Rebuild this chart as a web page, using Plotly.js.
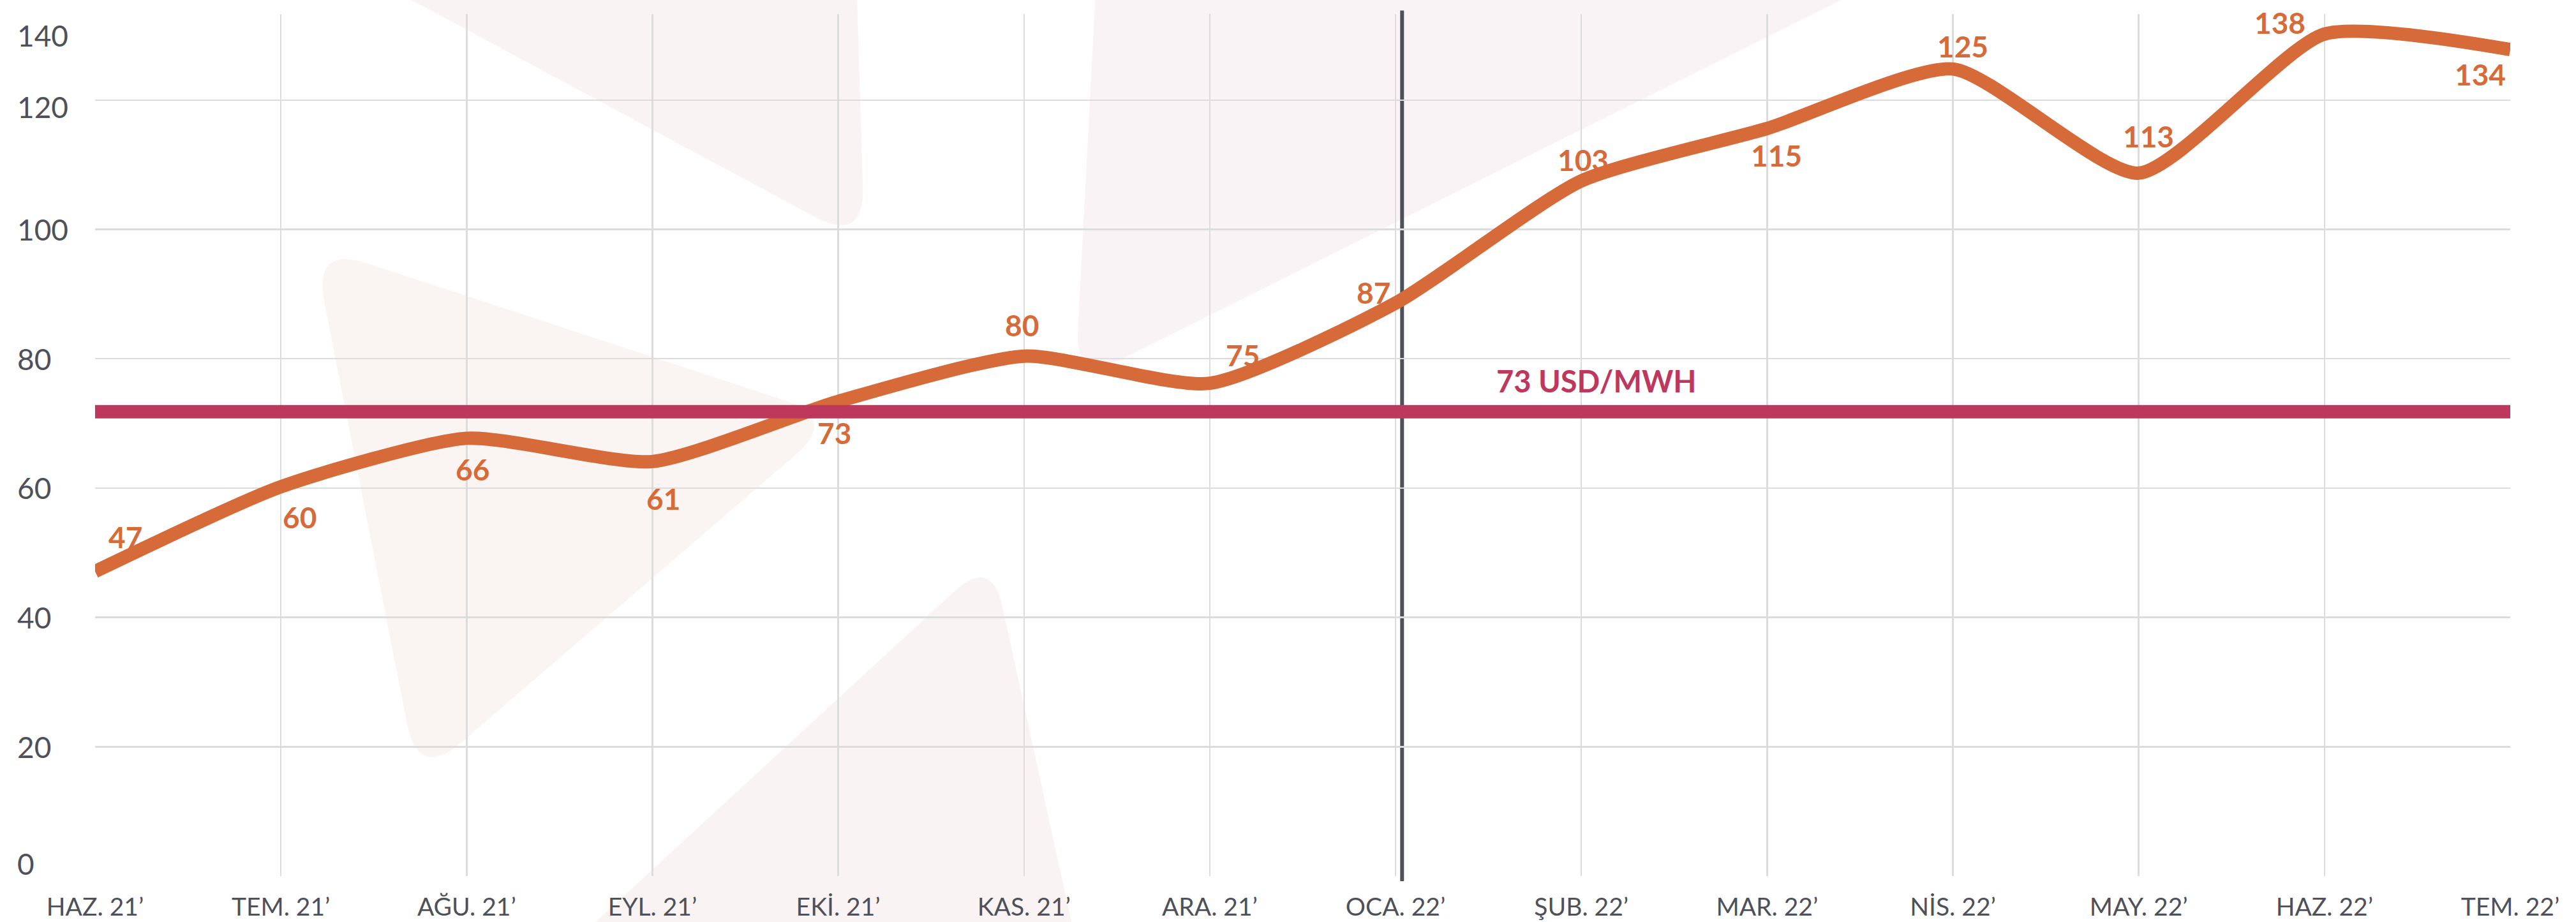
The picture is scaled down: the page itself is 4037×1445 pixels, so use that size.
<!DOCTYPE html>
<html>
<head>
<meta charset="utf-8">
<script src="https://cdn.plot.ly/plotly-3.0.1.min.js"></script>
<style>
  html, body { margin: 0; padding: 0; background: #ffffff; }
  #chart { width: 4037px; height: 1445px; }
</style>
</head>
<body>
<div id="chart"></div>
<script>
// ---------------- DATA ----------------
const months = ['HAZ. 21’','TEM. 21’','AĞU. 21’','EYL. 21’','EKİ. 21’','KAS. 21’','ARA. 21’',
                'OCA. 22’','ŞUB. 22’','MAR. 22’','NİS. 22’','MAY. 22’','HAZ. 22’','TEM. 22’'];
// line level as drawn in the picture
const priceLine = [47.1, 60.2, 67.7, 64.1, 73.4, 80.4, 76.2, 88.6, 107.5, 115.6, 124.8, 108.7, 130.2, 127.8];
// printed value labels
const priceLabels = [47, 60, 66, 61, 73, 80, 75, 87, 103, 115, 125, 113, 138, 134];
const refValue = 71.8;
const refLabel = '73 USD/MWH';
const markerMonth = 'OCA. 22’';
const yTickVals = [0, 20, 40, 60, 80, 100, 120];
const yTopLabel = '140';

// ---------------- LAYOUT HELPERS ----------------
const W = 4037, H = 1445;
const M = { l: 149, r: 103, t: 22, b: 72 };
const PW = W - M.l - M.r, PH = H - M.t - M.b;
const ORANGE = '#d66a38', CRIMSON = '#be375d', GRAY = '#4e5159';

// label offsets (px) relative to each line point
const labelShift = [[47, 54], [29, -48], [9, -49], [17, -58], [-6, -49], [-3, 49], [52, 44],
                    [-35, 17], [3, 33], [15, -42], [15, 36], [15, 58], [-70, 18], [-47, -39]];
// per-tick vertical nudges for y labels
const yTickNudge = { 0: 20, 120: -11 };

function toPaper(p) { return [(p[0] - M.l) / PW, (M.t + PH - p[1]) / PH]; }
function roundedTri(pts, r) {
  const n = pts.length;
  let d = '';
  for (let i = 0; i < n; i++) {
    const prev = pts[(i + n - 1) % n], cur = pts[i], next = pts[(i + 1) % n];
    const v1 = [prev[0] - cur[0], prev[1] - cur[1]], v2 = [next[0] - cur[0], next[1] - cur[1]];
    const l1 = Math.hypot(v1[0], v1[1]), l2 = Math.hypot(v2[0], v2[1]);
    const a = [cur[0] + v1[0] / l1 * r, cur[1] + v1[1] / l1 * r];
    const b = [cur[0] + v2[0] / l2 * r, cur[1] + v2[1] / l2 * r];
    const A = toPaper(a), C = toPaper(cur), B = toPaper(b);
    d += (i === 0 ? 'M' : 'L') + A[0] + ',' + A[1] + ' Q' + C[0] + ',' + C[1] + ' ' + B[0] + ',' + B[1] + ' ';
  }
  return d + 'Z';
}

const bgTriangles = [
  { pts: [[273, -200], [1337, -200], [1355, 382]], r: 90, c: '#faf3f3' },
  { pts: [[491, 385], [1314, 655], [655, 1222]], r: 90, c: '#faf4f3' },
  { pts: [[1554, 873], [765, 1600], [1713, 1600]], r: 80, c: '#faf3f4' },
  { pts: [[1732, -300], [3487, -300], [1685, 599]], r: 80, c: '#f9f3f6' }
];

const shapes = bgTriangles.map(t => ({
  type: 'path', xref: 'paper', yref: 'paper', layer: 'below',
  path: roundedTri(t.pts, t.r), fillcolor: t.c, line: { width: 0 }
}));
shapes.push({
  type: 'line', xref: 'x', yref: 'paper', layer: 'below',
  x0: markerMonth, x1: markerMonth, x0shift: 0.035, x1shift: 0.035,
  y0: -0.006, y1: 1.004, line: { color: GRAY, width: 6 }
});

const FONT = 'Lato, "Open Sans", "DejaVu Sans", sans-serif';

const annotations = [];
priceLabels.forEach((v, i) => {
  annotations.push({
    x: i, y: priceLine[i], xref: 'x', yref: 'y', text: '<b>' + v + '</b>',
    showarrow: false, xshift: labelShift[i][0], yshift: labelShift[i][1],
    font: { family: FONT, size: 46, color: ORANGE }
  });
});
annotations.push({
  x: 8.08, y: refValue, xref: 'x', yref: 'y', text: '<b>' + refLabel + '</b>',
  showarrow: false, yshift: 48, font: { family: FONT, size: 47, color: CRIMSON }
});
yTickVals.forEach(v => {
  annotations.push({
    x: 0, xref: 'paper', y: v, yref: 'y', text: String(v), showarrow: false,
    xanchor: 'left', xshift: -124, yshift: yTickNudge[v] || 0,
    font: { family: FONT, size: 46, color: GRAY }
  });
});
annotations.push({
  x: 0, xref: 'paper', y: 1, yref: 'paper', text: yTopLabel, showarrow: false,
  xanchor: 'left', xshift: -124, yshift: -4,
  font: { family: FONT, size: 46, color: GRAY }
});

const traces = [
  {
    x: months, y: priceLine, type: 'scatter', mode: 'lines',
    line: { color: ORANGE, width: 21, shape: 'spline', smoothing: 0.6 },
    hoverinfo: 'skip', showlegend: false
  },
  {
    x: [months[0], months[months.length - 1]], y: [refValue, refValue],
    type: 'scatter', mode: 'lines',
    line: { color: CRIMSON, width: 21 }, hoverinfo: 'skip', showlegend: false
  }
];

const layout = {
  width: W, height: H,
  margin: M,
  paper_bgcolor: '#ffffff', plot_bgcolor: 'rgba(0,0,0,0)',
  font: { family: FONT, color: GRAY },
  showlegend: false,
  xaxis: {
    type: 'category', range: [0, months.length - 1],
    showgrid: true, gridcolor: '#dcdcdc', gridwidth: 2.5,
    zeroline: false, showline: false, ticks: '',
    tickfont: { family: FONT, size: 39, color: GRAY },
    ticklabelstandoff: 22, fixedrange: true
  },
  yaxis: {
    range: [0, 133.3], tickvals: yTickVals, showticklabels: false,
    showgrid: true, gridcolor: '#dcdcdc', gridwidth: 2.5,
    zeroline: false, showline: false, ticks: '', fixedrange: true
  },
  shapes: shapes,
  annotations: annotations
};

Plotly.newPlot('chart', traces, layout, { staticPlot: true, displayModeBar: false });
</script>
</body>
</html>
